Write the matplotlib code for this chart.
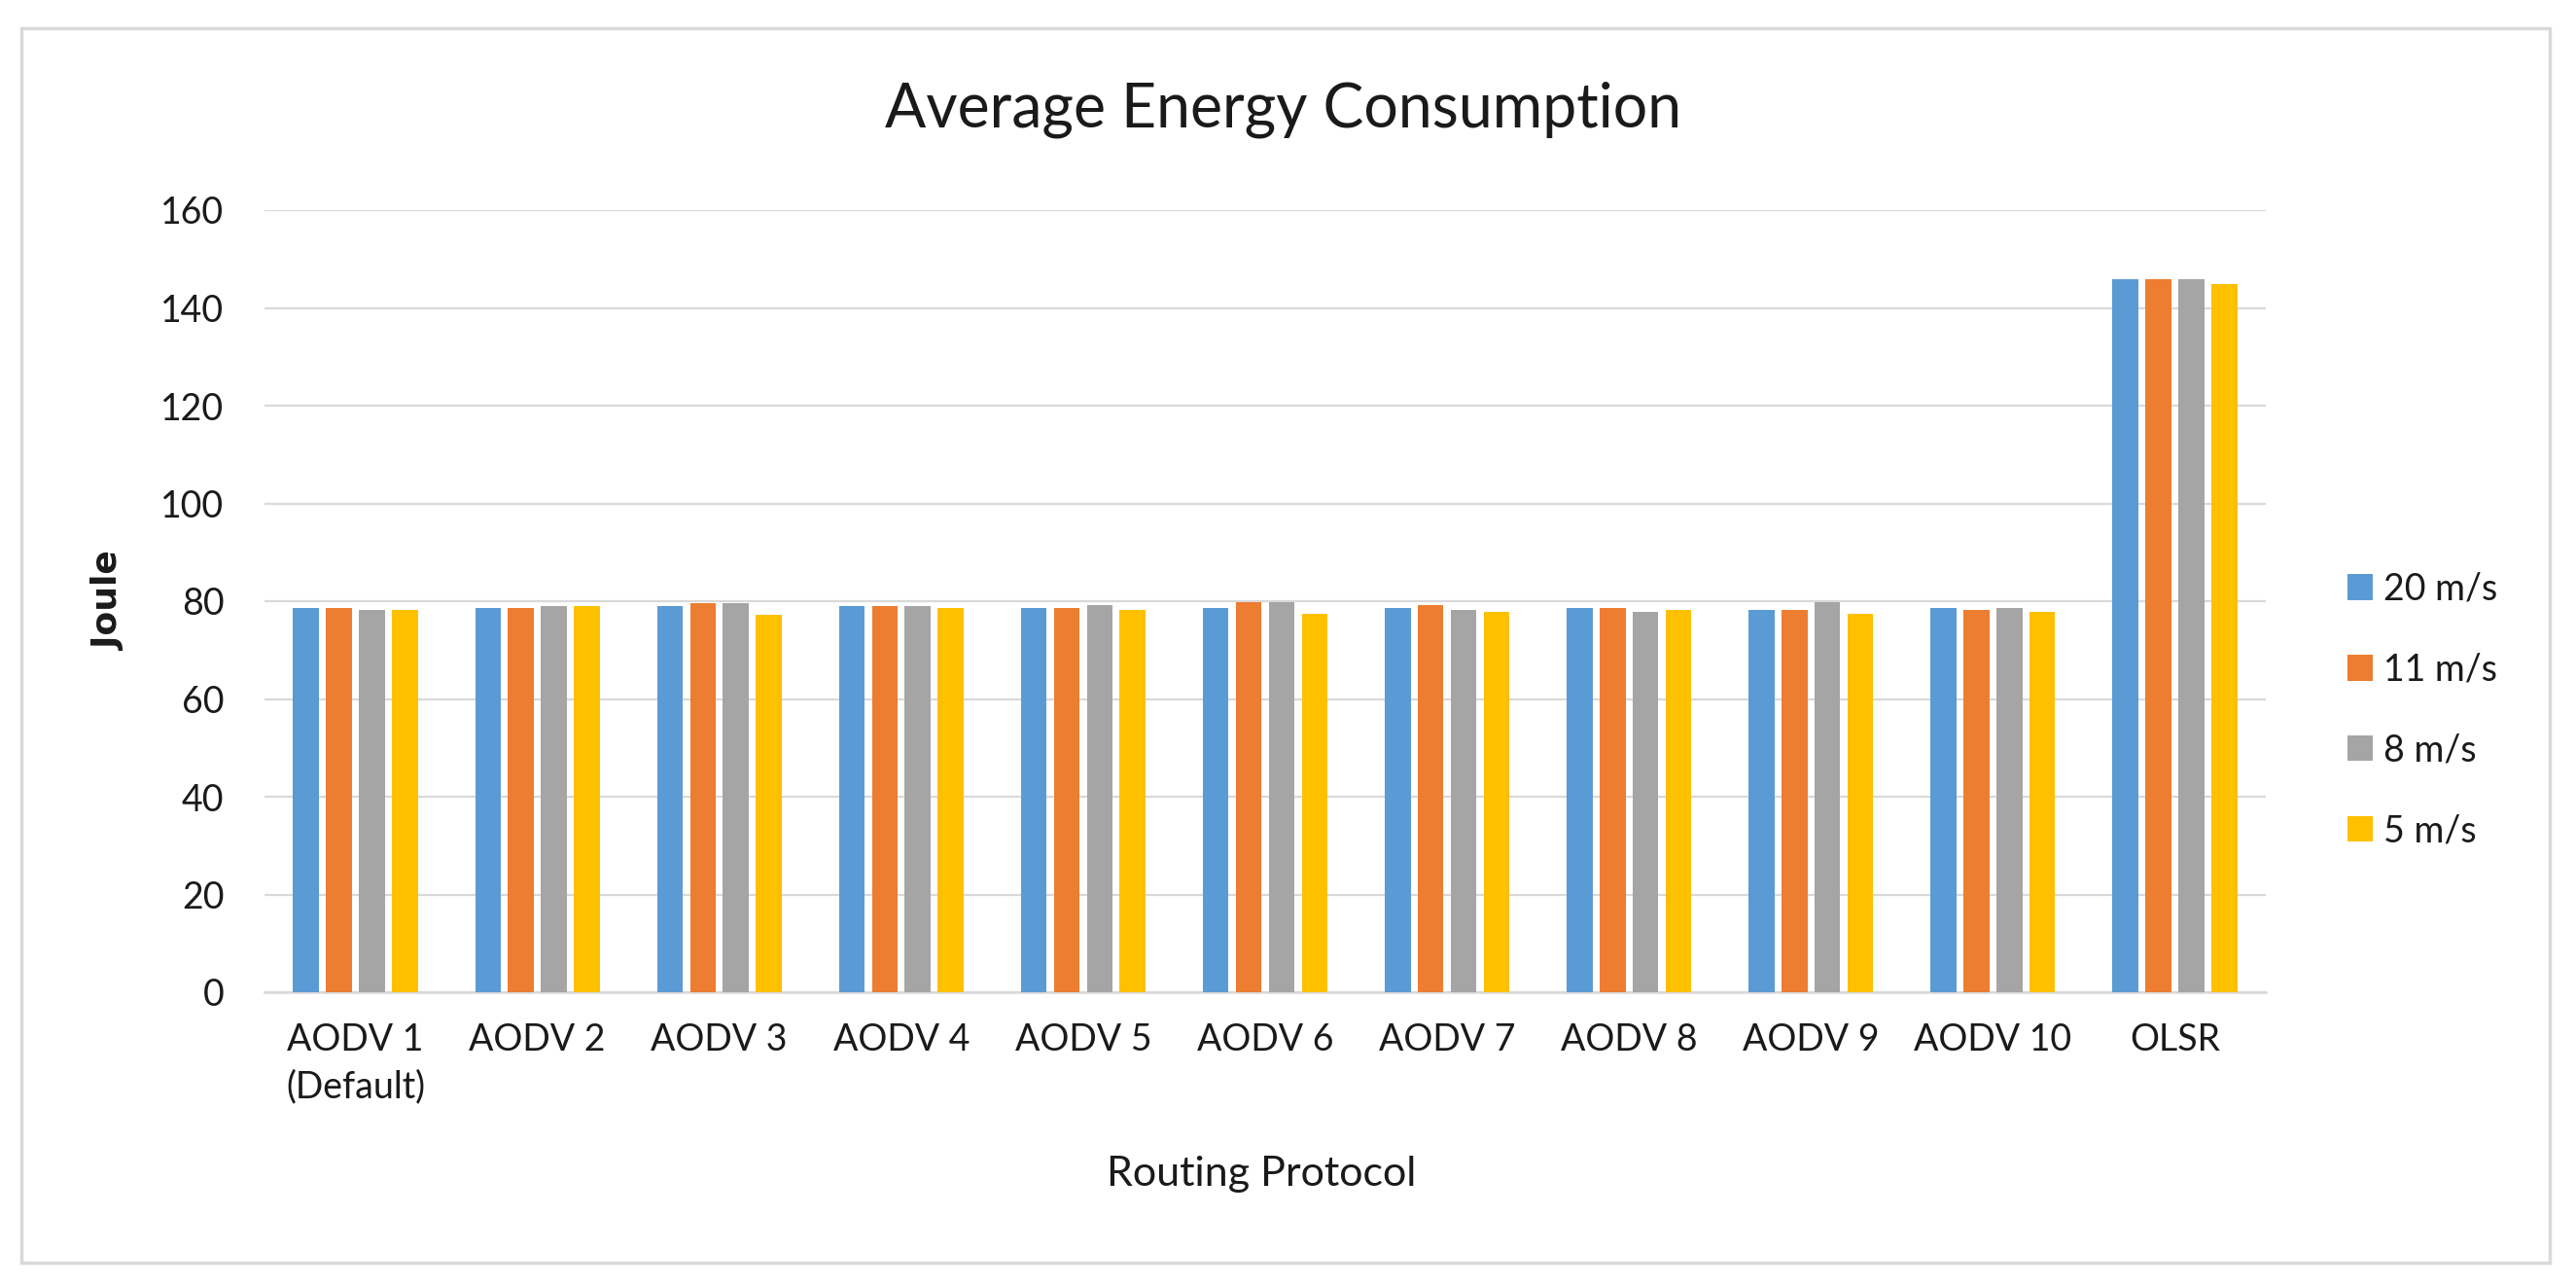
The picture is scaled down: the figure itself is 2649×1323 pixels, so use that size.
import matplotlib
matplotlib.use('Agg')
import matplotlib.pyplot as plt
from matplotlib.patches import Rectangle
import numpy as np

########## data ##########
protocols = ['AODV 1\n(Default)', 'AODV 2', 'AODV 3', 'AODV 4', 'AODV 5',
             'AODV 6', 'AODV 7', 'AODV 8', 'AODV 9', 'AODV 10', 'OLSR']
speeds = ['20 m/s', '11 m/s', '8 m/s', '5 m/s']

speed20 = [78.6, 78.6, 79.1, 79.1, 78.7, 78.7, 78.7, 78.7, 78.2, 78.7, 145.9]
speed11 = [78.6, 78.6, 79.6, 79.1, 78.7, 79.8, 79.3, 78.7, 78.2, 78.2, 145.9]
speed8 = [78.2, 79.1, 79.6, 79.1, 79.3, 79.8, 78.2, 77.8, 79.8, 78.7, 145.9]
speed5 = [78.2, 79.1, 77.2, 78.6, 78.2, 77.5, 77.9, 78.2, 77.5, 77.9, 144.9]

yticks = [0, 20, 40, 60, 80, 100, 120, 140, 160]

########## style ##########
colors = ['#5B9BD5', '#ED7D31', '#A5A5A5', '#FFC000']
textcol = '#1a1a1a'
gridcol = '#D9D9D9'
plt.rcParams['font.family'] = ['Lato', 'DejaVu Sans']

W, H = 2649, 1323
fig = plt.figure(figsize=(W / 100, H / 100), dpi=100)
ax = fig.add_axes([272 / W, 1 - 1020 / H, (2330 - 272) / W, (1020 - 216) / H])

x = np.arange(len(protocols))
pitch = 0.181
width = 0.142
series = [speed20, speed11, speed8, speed5]
for i, (vals, lab) in enumerate(zip(series, speeds)):
    ax.bar(x + (i - 1.5) * pitch, vals, width, color=colors[i], label=lab,
           zorder=3)

ax.set_xlim(-0.5, len(protocols) - 0.5)
ax.set_ylim(0, 160)
ax.set_yticks(yticks)
ax.set_xticks(x)
ax.set_xticklabels(protocols, linespacing=1.45)
ax.tick_params(axis='both', length=0, labelsize=27, colors=textcol)
ax.tick_params(axis='x', pad=22)
ax.tick_params(axis='y', pad=30)
ax.yaxis.grid(True, color=gridcol, linewidth=1.6, zorder=0)
for s in ['top', 'right', 'left']:
    ax.spines[s].set_visible(False)
ax.spines['bottom'].set_color(gridcol)
ax.spines['bottom'].set_linewidth(1.8)

ax.set_ylabel('Joule', fontsize=26, fontweight='bold', color=textcol,
              family='DejaVu Sans', labelpad=26)
fig.text(1297 / W, 1 - 1207 / H, 'Routing Protocol', fontsize=31,
         color=textcol, ha='center', va='center')
fig.text(1320 / W, 1 - 113 / H, 'Average Energy Consumption', fontsize=45,
         color=textcol, ha='center', va='center')

leg = fig.legend(loc='center left', bbox_to_anchor=(2395 / W, 1 - 730 / H),
                 frameon=False, fontsize=27, handlelength=0.7,
                 handleheight=0.7, handletextpad=0.3, labelspacing=1.25,
                 borderpad=0)
for t in leg.get_texts():
    t.set_color(textcol)

# light frame around the whole chart
fig.patches.append(Rectangle((22 / W, 1 - 1298 / H), (2622 - 22) / W,
                             (1298 - 29) / H, transform=fig.transFigure,
                             fill=False, edgecolor=gridcol, linewidth=2.5))

fig.savefig('out.png', dpi=100, facecolor='white')
